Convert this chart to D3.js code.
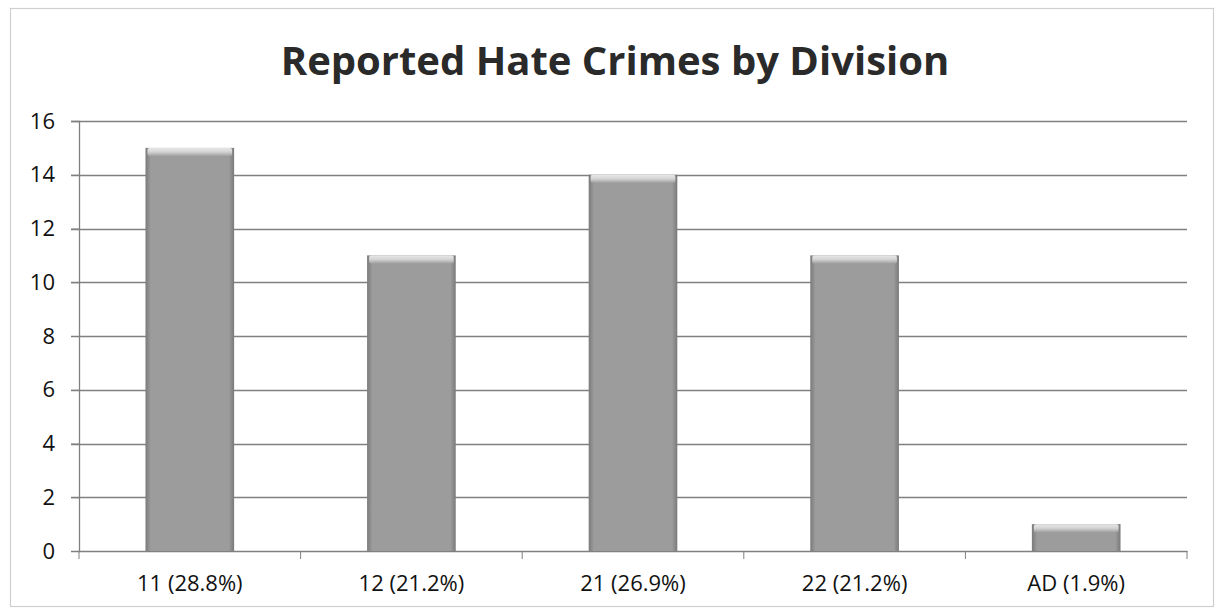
<!DOCTYPE html>
<html><head><meta charset="utf-8">
<script src="https://cdn.jsdelivr.net/npm/d3@7"></script>
<style>body{margin:0;background:#fff;}svg{display:block;}</style>
</head><body>
<svg id="c" width="1216" height="613"></svg>
<script>
const categories = ["11 (28.8%)", "12 (21.2%)", "21 (26.9%)", "22 (21.2%)", "AD (1.9%)"];
const values = [15, 11, 14, 11, 1];
const yTicks = [0, 2, 4, 6, 8, 10, 12, 14, 16];
const title = "Reported Hate Crimes by Division";

const svg = d3.select("#c");
const m = {left: 79, right: 1187, top: 121, bottom: 551};

// chart frame
svg.append("rect").attr("x", 10.5).attr("y", 8.5).attr("width", 1203).attr("height", 598)
  .attr("fill", "#fff").attr("stroke", "#cfcfcf").attr("stroke-width", 1.2);

const defs = svg.append("defs");
const g1 = defs.append("linearGradient").attr("id", "barH").attr("x1", 0).attr("x2", 1).attr("y1", 0).attr("y2", 0);
g1.append("stop").attr("offset", "0%").attr("stop-color", "#7a7a7a");
g1.append("stop").attr("offset", "6%").attr("stop-color", "#9c9c9c");
g1.append("stop").attr("offset", "94%").attr("stop-color", "#9c9c9c");
g1.append("stop").attr("offset", "100%").attr("stop-color", "#7a7a7a");
const g2 = defs.append("linearGradient").attr("id", "barTop").attr("x1", 0).attr("x2", 0).attr("y1", 0).attr("y2", 1);
g2.append("stop").attr("offset", "0%").attr("stop-color", "#e8e8e8");
g2.append("stop").attr("offset", "50%").attr("stop-color", "#d4d4d4");
g2.append("stop").attr("offset", "100%").attr("stop-color", "#a2a2a2");

const x = d3.scaleBand().domain(categories).range([m.left, m.right]).paddingInner(0.6).paddingOuter(0.3);
const xb = d3.scaleBand().domain(categories).range([m.left, m.right]);
const y = d3.scaleLinear().domain([0, 16]).range([m.bottom, m.top]);

// title
svg.append("text").attr("x", 615).attr("y", 75).attr("text-anchor", "middle")
  .attr("font-family", "Open Sans, sans-serif").attr("font-weight", 700).attr("font-size", 40)
  .attr("fill", "#2a2a2a").text(title);

// gridlines
svg.append("g").selectAll("line").data(yTicks.filter(d => d > 0)).join("line")
  .attr("x1", m.left - 8).attr("x2", m.right)
  .attr("y1", d => Math.round(y(d)) + 0.5).attr("y2", d => Math.round(y(d)) + 0.5)
  .attr("stroke", "#808080").attr("stroke-width", 1.3);

// y axis
const ya = svg.append("g").attr("transform", `translate(${m.left},0)`)
  .call(d3.axisLeft(y).tickValues(yTicks).tickSize(8).tickPadding(16).tickFormat(d3.format("d")));
ya.select(".domain").attr("stroke", "#808080").attr("stroke-width", 1.3);
ya.selectAll(".tick line").attr("stroke", "#808080");
ya.selectAll("text").attr("font-family", "Open Sans, sans-serif").attr("font-size", 22).attr("fill", "#111");

// x axis
const xa = svg.append("g").attr("transform", `translate(0,${m.bottom})`)
  .call(d3.axisBottom(xb).tickSize(0).tickPadding(24));
xa.select(".domain").attr("stroke", "#808080").attr("stroke-width", 1.3);
xa.selectAll("text").attr("font-family", "Open Sans, sans-serif").attr("font-size", 22).attr("fill", "#111");
// band boundary ticks
svg.append("g").selectAll("line").data(categories.concat(["end"])).join("line")
  .attr("x1", (d, i) => i < categories.length ? xb(d) : m.right)
  .attr("x2", (d, i) => i < categories.length ? xb(d) : m.right)
  .attr("y1", m.bottom).attr("y2", m.bottom + 8)
  .attr("stroke", "#808080");

// bars
const bars = svg.append("g").selectAll("g").data(values).join("g");
bars.append("rect")
  .attr("x", (d, i) => x(categories[i])).attr("width", x.bandwidth())
  .attr("y", d => y(d)).attr("height", d => y(0) - y(d))
  .attr("fill", "url(#barH)");
bars.append("rect")
  .attr("x", (d, i) => x(categories[i]) + 2).attr("width", x.bandwidth() - 4)
  .attr("y", d => y(d)).attr("height", 8)
  .attr("rx", 2)
  .attr("fill", "url(#barTop)");
</script>
</body></html>
